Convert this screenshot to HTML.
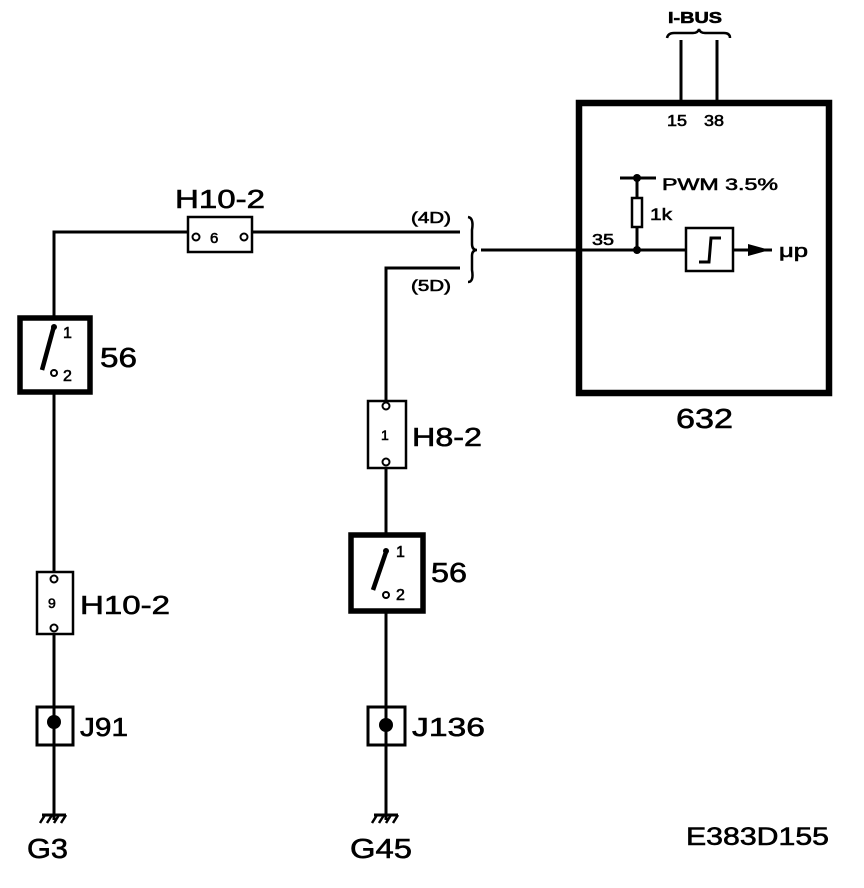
<!DOCTYPE html>
<html><head><style>body{margin:0;background:#fff}svg{display:block}text{font-family:"Liberation Sans",sans-serif;fill:#000}.b{stroke:#000;stroke-width:0.6}</style></head><body>
<svg width="864" height="888" viewBox="0 0 864 888" xmlns="http://www.w3.org/2000/svg">
<g stroke="#000" fill="none" stroke-width="3">
<polyline points="460,232 252,232"/>
<polyline points="188,232 54,232 54,318"/>
<line x1="54" y1="393" x2="54" y2="572"/>
<line x1="54" y1="634" x2="54" y2="820"/>
<rect x="188" y="217" width="64" height="35" stroke-width="2.5"/>
<rect x="20" y="318" width="70" height="74" stroke-width="5.5"/>
<line x1="54" y1="326" x2="42" y2="370" stroke-width="4.5"/>
<rect x="37" y="572" width="36" height="62" stroke-width="2.5"/>
<rect x="37" y="707" width="36" height="38" stroke-width="3"/>
<polyline points="460,268 386,268 386,401"/>
<line x1="386" y1="468" x2="386" y2="535"/>
<line x1="386" y1="610" x2="386" y2="820"/>
<rect x="368" y="401" width="38" height="67" stroke-width="2.5"/>
<rect x="351" y="535" width="72" height="76" stroke-width="5.5"/>
<line x1="386" y1="552" x2="373" y2="590" stroke-width="4.5"/>
<rect x="368" y="707" width="37" height="38" stroke-width="3"/>
<path d="M468,217 Q474,218 472,230 L472,244 Q472,250 477,250 Q472,250 472,256 L472,270 Q474,282 468,282" stroke-width="2.5"/>
<line x1="481" y1="250" x2="686" y2="250"/>
<rect x="579" y="103" width="250" height="290" stroke-width="6.5"/>
<line x1="681" y1="40" x2="681" y2="101"/>
<line x1="717" y1="40" x2="717" y2="101"/>
<path d="M667,38 Q668,33 674,33 L693,33 Q698,33 699,29 Q700,33 705,33 L724,33 Q730,33 730,38" stroke-width="2.5"/>
<line x1="620" y1="178" x2="656" y2="178"/>
<line x1="637" y1="178" x2="637" y2="198"/>
<rect x="632" y="198" width="10" height="29" stroke-width="2.5"/>
<line x1="637" y1="227" x2="637" y2="250"/>
<rect x="686" y="228" width="47" height="43" stroke-width="2.5"/>
<path d="M699,262 L709,262 L711,238 L721,238" stroke-width="3"/>
<line x1="733" y1="250" x2="772" y2="250"/>
<line x1="42" y1="815" x2="66" y2="815"/>
<path d="M45,815 l-5,8 M52,815 l-5,8 M59,815 l-5,8 M66,815 l-5,8" stroke-width="2.5"/>
<line x1="374" y1="815" x2="398" y2="815"/>
<path d="M377,815 l-5,8 M384,815 l-5,8 M391,815 l-5,8 M398,815 l-5,8" stroke-width="2.5"/>
</g>
<g fill="#000">
<polygon points="748,244 770,250 748,256"/>
<circle cx="637" cy="178" r="4"/><circle cx="637" cy="250" r="4"/>
<circle cx="54" cy="722" r="7"/><circle cx="386" cy="725" r="7"/>
<circle cx="54" cy="327" r="3"/><circle cx="386" cy="551" r="3"/>
</g>
<g fill="#fff" stroke="#000" stroke-width="2">
<circle cx="196" cy="237" r="3.5"/><circle cx="244" cy="237" r="3.5"/>
<circle cx="54" cy="373" r="3"/><circle cx="386" cy="595" r="3"/>
<circle cx="54" cy="579" r="3.5"/><circle cx="54" cy="628" r="3.5"/>
<circle cx="386" cy="406" r="3.5"/><circle cx="386" cy="462" r="3.5"/>
</g>
<g class="b">
<text x="175" y="208" font-size="26" textLength="90" lengthAdjust="spacingAndGlyphs">H10-2</text>
<text x="210" y="243" font-size="15">6</text>
<text x="411" y="223" font-size="16" textLength="40" lengthAdjust="spacingAndGlyphs">(4D)</text>
<text x="411" y="291" font-size="16" textLength="40" lengthAdjust="spacingAndGlyphs">(5D)</text>
<text x="63" y="338" font-size="16">1</text>
<text x="63" y="381" font-size="16">2</text>
<text x="100" y="367" font-size="28" textLength="37" lengthAdjust="spacingAndGlyphs">56</text>
<text x="48" y="608" font-size="14">9</text>
<text x="80" y="614" font-size="26" textLength="90" lengthAdjust="spacingAndGlyphs">H10-2</text>
<text x="80" y="736" font-size="26" textLength="48" lengthAdjust="spacingAndGlyphs">J91</text>
<text x="27" y="858" font-size="28" textLength="41" lengthAdjust="spacingAndGlyphs">G3</text>
<text x="381" y="440" font-size="14">1</text>
<text x="412" y="446" font-size="26" textLength="70" lengthAdjust="spacingAndGlyphs">H8-2</text>
<text x="396" y="557" font-size="16">1</text>
<text x="396" y="600" font-size="16">2</text>
<text x="431" y="582" font-size="28" textLength="36" lengthAdjust="spacingAndGlyphs">56</text>
<text x="412" y="736" font-size="26" textLength="73" lengthAdjust="spacingAndGlyphs">J136</text>
<text x="350" y="858" font-size="28" textLength="62" lengthAdjust="spacingAndGlyphs">G45</text>
<text x="668" y="23" font-size="16" font-weight="bold" textLength="54" lengthAdjust="spacingAndGlyphs">I-BUS</text>
<text x="667" y="126" font-size="16" textLength="20" lengthAdjust="spacingAndGlyphs">15</text>
<text x="704" y="126" font-size="16" textLength="20" lengthAdjust="spacingAndGlyphs">38</text>
<text x="662" y="190" font-size="17" textLength="116" lengthAdjust="spacingAndGlyphs">PWM 3.5%</text>
<text x="650" y="220" font-size="17" textLength="22" lengthAdjust="spacingAndGlyphs">1k</text>
<text x="592" y="245" font-size="16" textLength="22" lengthAdjust="spacingAndGlyphs">35</text>
<text x="779" y="257" font-size="18" textLength="29" lengthAdjust="spacingAndGlyphs">μp</text>
<text x="676" y="428" font-size="28" textLength="57" lengthAdjust="spacingAndGlyphs">632</text>
<text x="686" y="845" font-size="25" textLength="143" lengthAdjust="spacingAndGlyphs">E383D155</text>
</g>
</svg>
</body></html>
